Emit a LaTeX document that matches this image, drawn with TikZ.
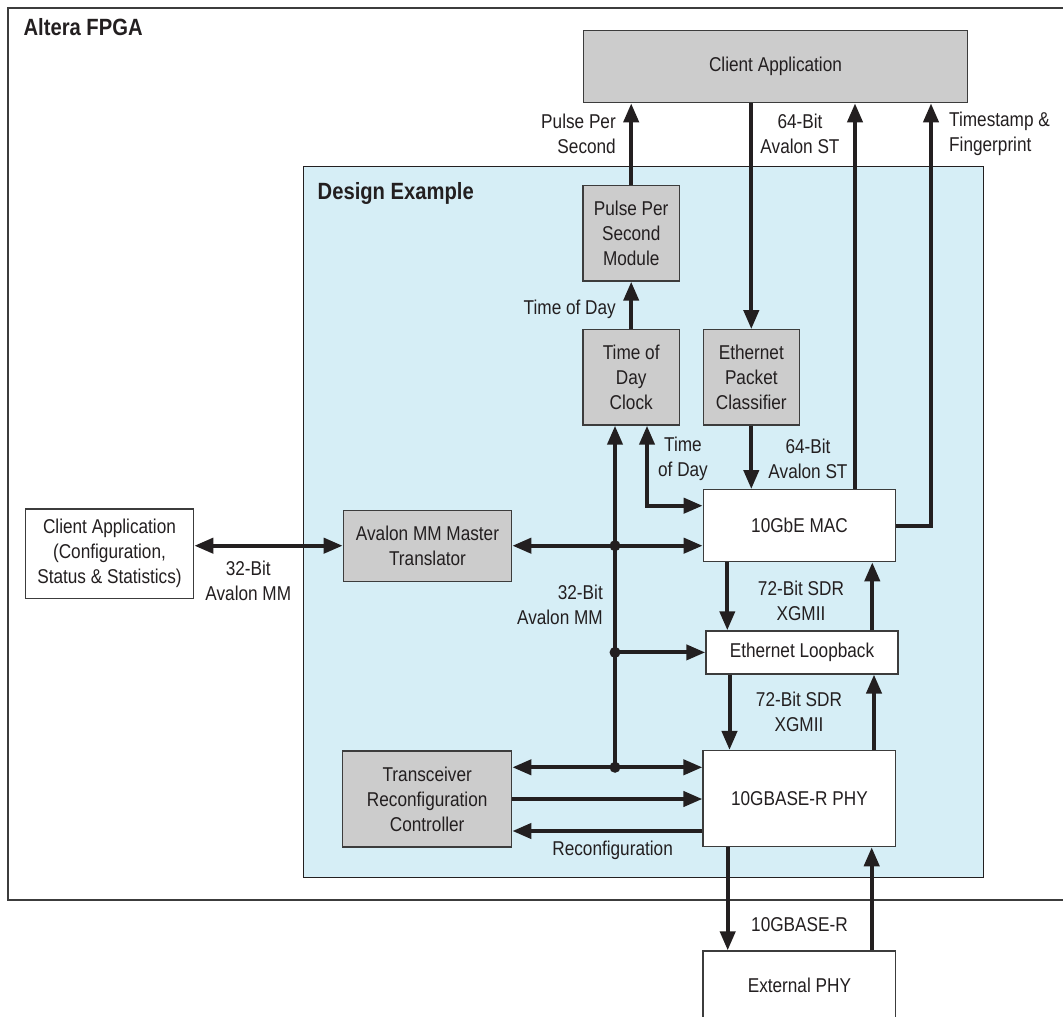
\documentclass[tikz,border=0pt]{standalone}
\usepackage{fontspec}
\setmainfont{Liberation Sans}[FakeStretch=0.86]
\usetikzlibrary{arrows.meta}
\definecolor{ink}{HTML}{231F20}
\definecolor{boxgray}{HTML}{CCCCCC}
\definecolor{dsblue}{HTML}{D6EEF6}
\definecolor{frame}{HTML}{3C3C3C}
\begin{document}
\begin{tikzpicture}[x=1pt,y=-1pt,
  box/.style={draw=frame, line width=1.3pt, align=center, inner sep=0pt,
    font=\fontsize{20}{25}\selectfont, text=ink},
  gbox/.style={box, fill=boxgray},
  wbox/.style={box, fill=white},
  bus/.style={draw=ink, line width=4pt},
  arr/.style={bus, -{Triangle[length=19pt,width=15pt]}},
  arrr/.style={bus, {Triangle[length=19pt,width=15pt]}-{Triangle[length=19pt,width=15pt]}},
  lbl/.style={font=\fontsize{20}{25}\selectfont, text=ink, inner sep=0pt, align=center},
  title/.style={font=\fontsize{23.5}{28}\selectfont\bfseries, text=ink, inner sep=0pt, anchor=base west},
  jdot/.style={circle, fill=ink, inner sep=0pt, minimum size=11pt}
]
\clip (0,0) rectangle (1063,1017);
\fill[white] (0,0) rectangle (1063,1017);
% Altera FPGA frame (open to the right, cropped)
\draw[frame, line width=1.5pt] (1100,8) -- (8,8) -- (8,900) -- (1100,900);
\node[title] (tfpga) at (23.4,35.7) {Altera FPGA};
% Design example region
\node[draw=ink, fill=dsblue, line width=1.5pt, minimum width=680pt, minimum height=711.2pt, inner sep=0pt] (de) at (643.3,522.1) {};
\node[title] (tde) at (317.5,199) {Design Example};

% blocks
\node[gbox, minimum width=384.4pt, minimum height=72pt] (cat) at (775.5,66.7) {Client Application};
\node[gbox, minimum width=96.3pt, minimum height=95.3pt] (pps) at (631.2,233.4) {Pulse Per\\Second\\Module};
\node[gbox, minimum width=96.3pt, minimum height=95.3pt] (tod) at (631.2,377.4) {Time of\\Day\\Clock};
\node[gbox, minimum width=96pt, minimum height=95.3pt] (epc) at (751.3,377.4) {Ethernet\\Packet\\Classifier};
\node[wbox, minimum width=192.4pt, minimum height=72pt] (mac) at (799.5,525.7) {10GbE MAC};
\node[wbox, minimum width=192.2pt, minimum height=43pt] (lb) at (802,652.4) {Ethernet Loopback};
\node[wbox, minimum width=192.7pt, minimum height=96pt] (phy) at (799.4,798.6) {10GBASE-R PHY};
\node[wbox, minimum width=192.7pt, minimum height=69pt] (ext) at (799.4,985.5) {External PHY};
\node[gbox, minimum width=168.4pt, minimum height=71pt] (tra) at (427.5,545.7) {Avalon MM Master\\Translator};
\node[gbox, minimum width=169pt, minimum height=96pt] (xc) at (427.2,799) {Transceiver\\Reconfiguration\\Controller};
\node[wbox, minimum width=168.4pt, minimum height=89.7pt] (cfg) at (109.5,553.8) {Client Application\\(Configuration,\\Status \& Statistics)};

% helper coordinates
\coordinate (xMacUp) at (855,0);
\coordinate (xTS) at (931,0);
\coordinate (xBus) at (615,0);
\coordinate (xTod) at (647,0);
\coordinate (kTod) at (647,505.7);
\coordinate (j1) at (xBus |- tra.east);
\coordinate (j2) at (xBus |- lb.west);
\coordinate (j3) at (615,767.3);
\coordinate (kRc) at (600,831);
\coordinate (d1) at (727.3,0);
\coordinate (u1) at (872.3,0);
\coordinate (d2) at (729.5,0);
\coordinate (u2) at (874,0);
\coordinate (d3) at (727.7,0);
\coordinate (u3) at (871.7,0);

% connectors to/from top client application
\draw[arr] (pps.north) -- (pps.north |- cat.south);
\draw[arr] (epc.north |- cat.south) -- (epc.north);
\draw[arr] (xMacUp |- mac.north) -- (xMacUp |- cat.south);
\draw[arr] (mac.east) -| (xTS |- cat.south);
\draw[arr] (tod.north) -- (pps.south);
\draw[arr] (epc.south) -- (epc.south |- mac.north);
\draw[arrr] (xTod |- tod.south) -- (kTod) -- (kTod -| mac.west);

% Avalon MM bus
\draw[arr] (j3) -- (xBus |- tod.south);
\draw[arrr] (tra.east) -- (tra.east -| mac.west);
\draw[arr] (j2) -- (lb.west);
\draw[arrr] (j3 -| xc.east) -- (j3 -| phy.west);
\draw[arr] (xc.east) -- (xc.east -| phy.west);
\draw[arr] (kRc -| phy.west) -- (kRc -| xc.east);
\draw[arrr] (cfg.east |- tra.west) -- (tra.west);
\node[jdot] (dot1) at (j1) {};
\node[jdot] (dot2) at (j2) {};
\node[jdot] (dot3) at (j3) {};

% datapath
\draw[arr] (d1 |- mac.south) -- (d1 |- lb.north);
\draw[arr] (u1 |- lb.north) -- (u1 |- mac.south);
\draw[arr] (d2 |- lb.south) -- (d2 |- phy.north);
\draw[arr] (u2 |- phy.north) -- (u2 |- lb.south);
\draw[arr] (d3 |- phy.south) -- (d3 |- ext.north);
\draw[arr] (u3 |- ext.north) -- (u3 |- phy.south);

% labels
\node[lbl, anchor=east, align=right] (lpps) at (616,134) {Pulse Per\\Second};
\node[lbl] (lst1) at (800,134) {64-Bit\\Avalon ST};
\node[lbl, anchor=west, align=left] (lts) at (949,134) {Timestamp \&\\Fingerprint};
\node[lbl, anchor=east] (ltod1) at (616,309.3) {Time of Day};
\node[lbl] (ltod2) at (683,459) {Time\\of Day};
\node[lbl] (lst2) at (808,459) {64-Bit\\Avalon ST};
\node[lbl] (lx1) at (801,600.7) {72-Bit SDR\\XGMII};
\node[lbl, anchor=east, align=right] (lmm2) at (603,604.5) {32-Bit\\Avalon MM};
\node[lbl] (lx2) at (799,712) {72-Bit SDR\\XGMII};
\node[lbl] (lrc) at (612.6,850) {Reconfiguration};
\node[lbl] (lgb) at (799.5,924.3) {10GBASE-R};
\node[lbl] (lmm1) at (248.3,580.5) {32-Bit\\Avalon MM};
\end{tikzpicture}
\end{document}
